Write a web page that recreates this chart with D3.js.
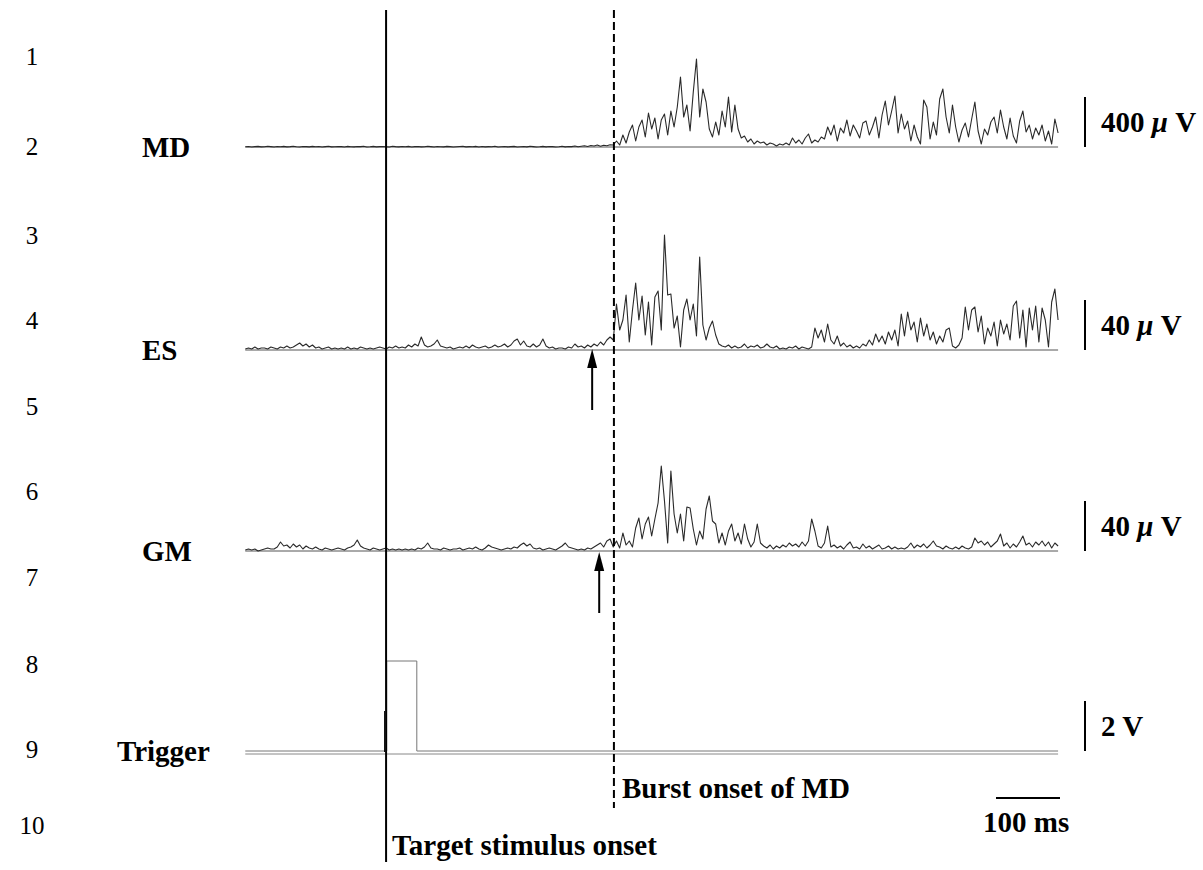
<!DOCTYPE html>
<html><head><meta charset="utf-8">
<script src="https://cdn.jsdelivr.net/npm/d3@7"></script>
<style>body{margin:0;background:#fff}svg{display:block}</style>
</head><body><svg id="c" width="1203" height="870"></svg>
<script>
// ---------------- DATA ----------------
const timeStartMs = -220, timeStepMs = 5;      // sample times: -220, -215, ... , 1050 ms
const stimulusOnsetMs = 0;
const burstOnsetMs = 356;
const arrowTimesMs = [322, 333];               // ES, GM onset arrows
const channels = ["MD", "ES", "GM"];
const scaleValues = [400, 40, 40, 2];          // µV, µV, µV, V
const scaleLabels = ["400", "40", "40", "2"];
const scaleUnits = ["μ V", "μ V", "μ V", "V"];
const lineNumbers = ["1","2","3","4","5","6","7","8","9","10"];
const timeBarMs = 100;

// MD (µV) before burst onset (-220 .. 350 ms) and after (355 .. 1050 ms)
const mdPre = [2,4,0,3,5,1,2,6,3,0, 4,2,5,1,3,6,2,0,4,3, 1,5,2,4,0,3,6,1,2,4, 3,0,5,2,1,4,3,6,0,2,
  5,1,3,4,2,0,6,3,1,4, 2,5,0,3,4,1,2,6,3,0, 4,2,1,5,3,0,2,4,6,1, 3,2,5,0,4,1,3,2,6,0,
  2,4,1,3,5,0,2,4,1,6, 3,0,2,5,1,4,3,0,2,6, 1,4,3,8,2,6,10,4,12,8, 16,6,14,10,18];
const mdPost = [16,48,16,96,32,120,176,48,160,216, 80,272,144,232,64,216,264,96,288,160,
  320,560,240,336,128,440,704,240,464,360, 144,80,200,96,288,160,400,120,336,144,
  72,88,40,64,24,48,32,40,16,32, 24,8,24,16,32,16,72,32,56,24,
  72,104,32,56,40,80,64,160,96,176, 48,152,112,216,88,176,128,72,192,208,
  96,160,240,72,256,368,176,288,408,112, 264,144,208,48,176,80,24,376,320,64,
  200,96,384,464,240,112,336,160,40,136, 192,80,224,360,128,24,144,96,200,240,
  112,296,160,64,232,88,32,208,288,120, 176,64,152,96,176,48,128,24,224,112];

// ES (µV)
const esPre = [0.8,1.6,0.8,2.4,0.8,1.6,1.6,0.8,2.4,1.6, 0.8,2.4,1.6,3.2,1.6,2.4,4,5.6,3.2,4.8,
  2.4,4,1.6,2.4,0.8,1.6,2.4,0.8,1.6,0.8, 1.6,0.8,2.4,0.8,1.6,0.8,2.4,1.6,0.8,1.6,
  0.8,1.6,2.4,1.6,0.8,2.4,1.6,3.2,1.6,2.4, 1.6,4,2.4,4.8,3.2,10.4,4,2.4,3.2,4.8,
  8,3.2,2.4,1.6,2.4,0.8,1.6,2.4,1.6,3.2, 1.6,4,2.4,1.6,2.4,3.2,1.6,2.4,4,2.4,
  3.2,4.8,2.4,4,7.2,8.8,4,7.2,3.2,2.4, 4.8,2.4,4,8.8,3.2,1.6,2.4,0.8,1.6,1.6,
  0.8,2.4,1.6,4.8,2.4,3.2,1.6,4,2.4,4.8, 3.2,6.4,4,8,10.4];
const esPost = [8,36.8,16,24,44,6.4,32,53.6,24,43.2, 12,38.4,4,42.4,47.2,16,92,44,44.8,17.6,
  27.2,2.4,32,40.8,24,36.8,11.2,74.4,20,8, 17.6,23.2,12,4.8,3.2,2.4,4,1.6,3.2,1.6,
  2.4,4.8,1.6,3.2,2.4,4,1.6,2.4,4.8,2.4, 1.6,3.2,0.8,1.6,0.8,2.4,1.6,3.2,0.8,2.4,
  1.6,0.8,2.4,17.6,9.6,16,6.4,20.8,8,4.8, 11.2,3.2,5.6,2.4,4,1.6,3.2,1.6,4.8,3.2,
  8,4,12.8,6.4,11.2,4.8,14.4,8,16,3.2, 28.8,11.2,30.4,16,22.4,6.4,25.6,11.2,20.8,8,
  14.4,4.8,11.2,6.4,16,17.6,3.2,1.6,4,9.6, 34.4,16,32,34.4,14.4,27.2,4.8,17.6,11.2,22.4,
  3.2,24,12.8,20.8,8,35.2,39.2,9.6,32,2.4, 33.6,16,35.2,6.4,33.6,24,2.4,38.4,48.8,24];

// GM (µV)
const gmPre = [0.8,1.6,0.8,1.6,0,0.8,1.6,2.4,1.6,1.6, 3.2,7.2,4,4.8,2.4,5.6,3.2,4.8,1.6,4,
  2.4,1.6,3.2,1.6,0.8,2.4,1.6,0.8,1.6,2.4, 1.6,0.8,2.4,3.2,4.8,8.8,4,2.4,1.6,0.8,
  2.4,1.6,0.8,1.6,2.4,0.8,1.6,0.8,1.6,0.8, 1.6,0.8,1.6,0.8,2.4,1.6,3.2,6.4,2.4,1.6,
  1.6,0.8,2.4,1.6,0.8,1.6,1.6,2.4,0.8,1.6, 2.4,1.6,3.2,1.6,0.8,2.4,4.8,3.2,2.4,1.6,
  0.8,1.6,2.4,1.6,3.2,2.4,4.8,6.4,4,5.6, 2.4,1.6,2.4,0.8,1.6,2.4,1.6,0.8,2.4,4,
  6.4,3.2,2.4,1.6,0.8,1.6,0.8,2.4,1.6,3.2, 4.8,6.4,3.2,8,9.6];
const gmPost = [3.2,8,2.4,14.4,4.8,8,3.2,18.4,26.4,9.6, 21.6,27.2,12,25.6,38.4,68,40,6.4,64,29.6,
  14.4,29.6,8,35.2,34.4,17.6,4.8,16,9.6,33.6, 44,24,21.6,6.4,14.4,4.8,16,21.6,8,14.4,
  5.6,21.6,9.6,3.2,7.2,21.6,6.4,4,2.4,4.8, 1.6,4,2.4,4.8,3.2,6.4,4,5.6,3.2,7.2,
  4,8,25.6,16,4,2.4,6.4,20,3.2,4.8, 2.4,4,1.6,4.8,7.2,2.4,3.2,1.6,5.6,2.4,
  4,1.6,3.2,4.8,1.6,2.4,4,1.6,3.2,1.6, 2.4,1.6,3.2,6.4,2.4,4.8,3.2,5.6,2.4,4.8,
  8,4,3.2,1.6,4,2.4,1.6,3.2,1.6,4, 2.4,1.6,3.2,10.4,6.4,8,4.8,7.2,3.2,5.6,
  8,13.6,4,6.4,2.4,5.6,3.2,7.2,12,4.8, 6.4,3.2,7.2,4.8,8,4,7.2,2.4,6.4,4];

// Trigger (V): step pulse
const triggerTimesMs = [-220, 1, 1, 48, 48, 1050];
const triggerVolts   = [0, 0, 3.6, 3.6, 0, 0];

// ---------------- LAYOUT ----------------
const svg = d3.select("#c");
const x = d3.scaleLinear().domain([-222, 1053]).range([244, 1060]);
const baselines = [147, 350, 551, 751];
const barPx = 50;
const traceColor = "#2a2a2a";
const serif = "'Liberation Serif','Times New Roman',serif";
const labelSize = 29;

const series = [mdPre.concat(mdPost), esPre.concat(esPost), gmPre.concat(gmPost)];
const yScales = baselines.map((b, i) => d3.scaleLinear().domain([0, scaleValues[i]]).range([b, b - barPx]));

// EMG traces
series.forEach((vals, ci) => {
  const y = yScales[ci];
  const pts = vals.map((v, i) => ({t: timeStartMs + i * timeStepMs, v}));
  svg.append("line")
    .attr("x1", x(timeStartMs)).attr("x2", x(pts[pts.length - 1].t))
    .attr("y1", y(0)).attr("y2", y(0))
    .attr("stroke", "#555").attr("stroke-width", 1);
  svg.append("path").datum(pts)
    .attr("d", d3.line().x(d => x(d.t)).y(d => y(d.v)))
    .attr("fill", "none").attr("stroke", traceColor).attr("stroke-width", 1.1)
    .attr("stroke-linejoin", "round");
});

// Trigger trace (double line look)
{
  const y = yScales[3];
  const pts = triggerTimesMs.map((t, i) => ({t, v: triggerVolts[i]}));
  svg.append("line")
    .attr("x1", x(triggerTimesMs[0])).attr("x2", x(triggerTimesMs[triggerTimesMs.length - 1]))
    .attr("y1", y(0) + 3).attr("y2", y(0) + 3)
    .attr("stroke", "#888").attr("stroke-width", 1);
  svg.append("path").datum(pts)
    .attr("d", d3.line().x(d => x(d.t)).y(d => y(d.v)))
    .attr("fill", "none").attr("stroke", "#777").attr("stroke-width", 1);
  svg.append("line")
    .attr("x1", x(stimulusOnsetMs) - 1.5).attr("x2", x(stimulusOnsetMs) - 1.5)
    .attr("y1", y(0) - 40).attr("y2", y(0) + 1)
    .attr("stroke", "#000").attr("stroke-width", 1);
}

// Vertical event lines
svg.append("line")
  .attr("x1", x(stimulusOnsetMs)).attr("x2", x(stimulusOnsetMs))
  .attr("y1", 10).attr("y2", 862)
  .attr("stroke", "#000").attr("stroke-width", 2);
svg.append("line")
  .attr("x1", x(burstOnsetMs)).attr("x2", x(burstOnsetMs))
  .attr("y1", 10).attr("y2", 808)
  .attr("stroke", "#000").attr("stroke-width", 2)
  .attr("stroke-dasharray", "8,4");

// Arrows (ES, GM)
const arrowTips = [baselines[1] - 1, baselines[2] + 1];
const arrowTails = [410, 613];
arrowTimesMs.forEach((t, i) => {
  const ax = x(t), tip = arrowTips[i];
  svg.append("line").attr("x1", ax).attr("x2", ax)
    .attr("y1", tip + 16).attr("y2", arrowTails[i])
    .attr("stroke", "#000").attr("stroke-width", 2);
  svg.append("path")
    .attr("d", `M${ax},${tip} L${ax - 5},${tip + 19} L${ax + 5},${tip + 19} Z`)
    .attr("fill", "#000");
});

// Line numbers
const numberY = [57, 147, 236, 321, 407, 492, 578, 665, 750, 826];
svg.selectAll("text.num").data(lineNumbers).enter().append("text")
  .attr("class", "num")
  .attr("x", 32).attr("y", (d, i) => numberY[i] + 8)
  .attr("text-anchor", "middle")
  .attr("font-family", serif).attr("font-size", 25)
  .text(d => d);

// Channel labels
const labelNames = channels.concat(["Trigger"]);
const labelX = [142, 142, 142, 117];
labelNames.forEach((name, i) => {
  svg.append("text")
    .attr("x", labelX[i]).attr("y", baselines[i] + 10)
    .attr("font-family", serif).attr("font-weight", "bold").attr("font-size", labelSize)
    .text(name);
});

// Amplitude scale bars
const barX = 1085;
scaleValues.forEach((v, i) => {
  const y = yScales[i];
  svg.append("line").attr("x1", barX).attr("x2", barX)
    .attr("y1", y(0)).attr("y2", y(v))
    .attr("stroke", "#000").attr("stroke-width", 2);
  const ty = (y(0) + y(v)) / 2 + 10;
  const txt = svg.append("text").attr("x", 1101).attr("y", ty)
    .attr("font-family", serif).attr("font-weight", "bold").attr("font-size", labelSize);
  txt.append("tspan").text(scaleLabels[i] + " ");
  const u = scaleUnits[i];
  if (u.startsWith("μ")) {
    txt.append("tspan").attr("font-style", "italic").text("μ");
    txt.append("tspan").text(u.slice(1));
  } else {
    txt.append("tspan").text(u);
  }
});

// Time scale bar
svg.append("line")
  .attr("x1", x(1053 - timeBarMs)).attr("x2", x(1053))
  .attr("y1", 798).attr("y2", 798)
  .attr("stroke", "#000").attr("stroke-width", 2);
svg.append("text").attr("x", 983).attr("y", 832)
  .attr("font-family", serif).attr("font-weight", "bold").attr("font-size", labelSize)
  .text(timeBarMs + " ms");

// Event annotations
svg.append("text").attr("x", x(burstOnsetMs) + 8).attr("y", 798)
  .attr("font-family", serif).attr("font-weight", "bold").attr("font-size", labelSize)
  .text("Burst onset of MD");
svg.append("text").attr("x", x(stimulusOnsetMs) + 6).attr("y", 855)
  .attr("font-family", serif).attr("font-weight", "bold").attr("font-size", labelSize)
  .text("Target stimulus onset");
</script>
</body></html>
